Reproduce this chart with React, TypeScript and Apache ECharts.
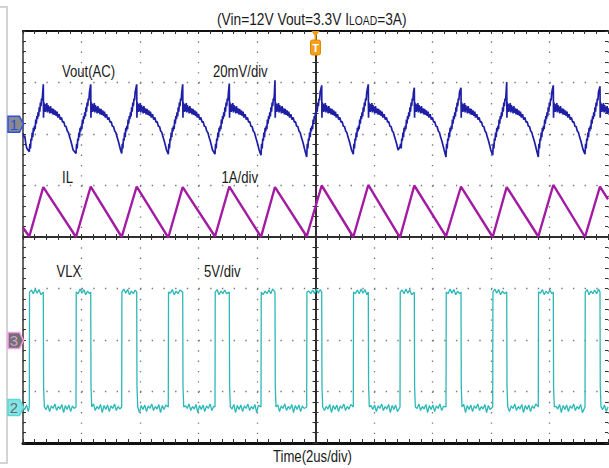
import React, { useEffect, useRef } from 'react';
import * as echarts from 'echarts';

// ---- time base: µs, trigger at 0, 2 µs/div, 10 divisions ----
const timeMinUs = -10;
const timeMaxUs = 10;
const timePerDivUs = 2;
const divMin = -4;
const divMax = 4;

// ---- channel scales (units/div) and ground marker position (div from centre) ----
const ch1ScaleMv = 20;
const ch1ZeroDiv = 2.19;
const ch3ScaleA = 1;
const ch3ZeroDiv = -2.01;
const ch2ScaleV = 5;
const ch2ZeroDiv = -3.31;

// ---- VLX switching edges (µs) ----
const vlxRiseUs = [-9.785, -8.188, -6.626, -5.033, -3.436, -1.863, -0.301, 1.292, 2.889, 4.462, 6.058, 7.617, 9.214];
const vlxFallUs = [-9.306, -7.685, -6.113, -4.54, -2.947, -1.385, 0.212, 1.805, 3.378, 4.974, 6.537, 8.13, 9.726];
const vlxHighV = 11.2;
const vlxLowV = 0.05;
const vlxFallTailV = 2.0;
const vlxHighRipple = [0.2, -0.15, 0.3, -0.1, 0.25, -0.25, 0.1, -0.15];
const vlxLowRipple = [-0.25, 0.2, -0.45, 0.1, -0.15, 0.3, -0.35, 0.05, -0.2, 0.25, -0.55, 0.15];

// ---- inductor current (A) ----
const ilStart: [number, number] = [-10, 2.19];
const ilEnd: [number, number] = [10, 2.74];
const ilValleyA = [2.02, 2.01, 2.01, 2.0, 2.02, 2.01, 2.02, 2.01, 2.0, 2.02, 2.01, 2.02, 2.01];
const ilPeakA = [2.98, 2.99, 2.99, 2.98, 2.99, 2.98, 3.01, 3.02, 3.01, 2.99, 2.98, 3.02, 2.99];

// ---- output ripple (mV, AC) ----
const voutStart: [number, number][] = [[-10, -3.5], [-9.96, -5.2], [-9.94, -4.4], [-9.9, -8.0], [-9.87, -9.3]];
const voutValleyMv = [-10.7, -11.4, -11.4, -11.6, -11.6, -12.0, -12.7, -11.6, -8.8, -12.7, -12.0, -12.7, -11.6];
const voutPeakMv = [15.5, 15.5, 15.5, 15.5, 15.8, 17.1, 15.1, 15.5, 14.2, 14.2, 16.4, 15.1, 14.7];
// shape during on-time (µs after rising edge, mV)
const voutRiseShape: [number, number][] = [
  [0.02, -7.6], [0.04, -9.4], [0.06, -5.6], [0.08, -6.4], [0.1, -3.2], [0.12, -5.0],
  [0.14, -1.4], [0.16, -2.8], [0.18, -0.6], [0.2, -1.9], [0.22, 1.8], [0.24, 0.2],
  [0.26, 3.2], [0.28, 2.0], [0.3, 4.6], [0.32, 3.0], [0.34, 6.6], [0.36, 4.9],
  [0.38, 8.4], [0.4, 7.0], [0.42, 10.0], [0.44, 9.2], [0.46, 12.4],
];
// shape during off-time (µs after falling edge, mV)
const voutDecayShape: [number, number][] = [
  [0.008, 2.5], [0.02, 8.5], [0.035, 5.0], [0.05, 7.9], [0.065, 4.8], [0.08, 7.6],
  [0.1, 5.2], [0.12, 8.2], [0.14, 4.6], [0.16, 7.4], [0.18, 5.0], [0.2, 6.8],
  [0.22, 4.2], [0.245, 7.0], [0.27, 4.4], [0.295, 6.2], [0.32, 3.8], [0.35, 6.0],
  [0.38, 3.6], [0.41, 5.4], [0.44, 3.2], [0.47, 4.9], [0.5, 2.6], [0.54, 3.9],
  [0.58, 1.8], [0.62, 2.6], [0.66, 0.8], [0.7, 1.0], [0.74, -0.8], [0.78, -0.9],
  [0.82, -2.6], [0.86, -3.2], [0.9, -5.0], [0.94, -6.4], [0.98, -8.2], [1.02, -10.0],
];

// ---- texts ----
const titleMain = '(Vin=12V Vout=3.3V I';
const titleSub = 'LOAD';
const titleEnd = '=3A)';
const ch1Label = 'Vout(AC)';
const ch1Scale = '20mV/div';
const ch3Label = 'IL';
const ch3Scale = '1A/div';
const ch2Label = 'VLX';
const ch2Scale = '5V/div';
const timeLabel = 'Time(2us/div)';

const FONT = '"Liberation Sans", Arial, sans-serif';

function buildVlx(): [number, number][] {
  const d: [number, number][] = [[timeMinUs, vlxLowV]];
  const ripple = (t0: number, t1: number, base: number, arr: number[], step: number, phase: number) => {
    let k = phase;
    for (let t = t0 + step; t < t1 - step * 0.5; t += step) {
      d.push([t, base + arr[k % arr.length]]);
      k++;
    }
  };
  ripple(timeMinUs, vlxRiseUs[0], vlxLowV, vlxLowRipple, 0.06, 0);
  for (let i = 0; i < vlxRiseUs.length; i++) {
    const r = vlxRiseUs[i];
    const f = vlxFallUs[i];
    d.push([r, vlxLowV], [r + 0.008, vlxHighV]);
    ripple(r + 0.008, f, vlxHighV, vlxHighRipple, 0.065, i);
    d.push([f, vlxHighV], [f + 0.01, vlxFallTailV], [f + 0.035, vlxLowV]);
    const next = i + 1 < vlxRiseUs.length ? vlxRiseUs[i + 1] : timeMaxUs;
    ripple(f + 0.035, next, vlxLowV, vlxLowRipple, 0.06, i * 5);
  }
  d.push([timeMaxUs, vlxLowV]);
  return d;
}

function buildIl(): [number, number][] {
  const d: [number, number][] = [ilStart];
  for (let i = 0; i < vlxRiseUs.length; i++) {
    d.push([vlxRiseUs[i], ilValleyA[i]], [vlxFallUs[i], ilPeakA[i]]);
  }
  d.push(ilEnd);
  return d;
}

function buildVout(): [number, number][] {
  const d: [number, number][] = [...voutStart];
  for (let i = 0; i < vlxRiseUs.length; i++) {
    const r = vlxRiseUs[i];
    const f = vlxFallUs[i];
    d.push([r, voutValleyMv[i]]);
    voutRiseShape.forEach(([dt, v]) => {
      if (r + dt < f - 0.005) d.push([r + dt, v]);
    });
    d.push([f, voutPeakMv[i]]);
    voutDecayShape.forEach(([dt, v]) => d.push([f + dt, v]));
  }
  return d;
}

const chRange = (scale: number, zeroDiv: number) => ({
  min: (divMin - zeroDiv) * scale,
  max: (divMax - zeroDiv) * scale,
});

export default function App() {
  const ref = useRef<HTMLDivElement>(null);
  useEffect(() => {
    if (!ref.current) return;
    const chart = echarts.init(ref.current, null, { renderer: 'svg' });
    const gridLeft = 23;
    const gridTop = 31;
    const gridW = 585;
    const gridH = 412;
    const cx = gridLeft + gridW / 2;
    const divW = gridW / 10;
    const divH = gridH / 8;
    const gridColor = '#777';

    const baseX = {
      type: 'value',
      min: timeMinUs,
      max: timeMaxUs,
      interval: timePerDivUs,
      axisLabel: { show: false },
    };
    const baseY = {
      type: 'value',
      min: divMin,
      max: divMax,
      interval: 1,
      axisLabel: { show: false },
    };
    const tick = (inside: boolean, len = 3) => ({
      axisTick: { show: true, inside, length: len, lineStyle: { color: '#333', width: 1 } },
      minorTick: { show: true, splitNumber: 5, length: len, lineStyle: { color: '#333', width: 1 } },
    });

    const label = (text: string, x: number, y: number) => ({
      type: 'text',
      x,
      y,
      scaleX: 0.82,
      z: 50,
      style: {
        text,
        font: `16px ${FONT}`,
        fill: '#1b1b1b',
        align: 'left',
        verticalAlign: 'middle',
        textAlign: 'left',
        textVerticalAlign: 'middle',
      },
    });
    const marker = (y: number, fill: string, stroke: string, text: string, textFill: string) => [
      {
        type: 'polygon',
        z: 60,
        shape: { points: [[8, y - 8], [19.5, y - 8], [23.5, y], [19.5, y + 8], [8, y + 8]] },
        style: { fill, stroke, lineWidth: 1.5 },
      },
      {
        type: 'text',
        x: 14,
        y,
        z: 61,
        style: {
          text,
          font: `15px ${FONT}`,
          fill: textFill,
          align: 'center',
          verticalAlign: 'middle',
          textAlign: 'center',
          textVerticalAlign: 'middle',
        },
      },
    ];
    const yOf = (zeroDiv: number) => gridTop + gridH / 2 - zeroDiv * divH;

    const option: any = {
      animation: false,
      backgroundColor: '#ffffff',
      grid: { left: gridLeft, top: gridTop, width: gridW, height: gridH, outerBoundsMode: 'none', containLabel: false },
      xAxis: [
        {
          ...baseX,
          position: 'bottom',
          axisLine: { show: true, onZero: false, lineStyle: { color: '#111', width: 3 } },
          ...tick(true, 4),
          splitLine: { show: true, lineStyle: { color: gridColor, width: 1.3, type: [1.4, divH / 5 - 1.4] } },
        },
        {
          ...baseX,
          position: 'top',
          axisLine: { show: true, onZero: false, lineStyle: { color: '#111', width: 2 } },
          ...tick(true, 3),
          splitLine: { show: false },
        },
        {
          ...baseX,
          position: 'bottom',
          axisLine: { show: true, onZero: true, onZeroAxisIndex: 0, lineStyle: { color: '#222', width: 1.5 } },
          ...tick(true, 3),
          splitLine: { show: false },
        },
        {
          ...baseX,
          position: 'bottom',
          axisLine: { show: true, onZero: true, onZeroAxisIndex: 0, lineStyle: { color: '#222', width: 1.5 } },
          ...tick(false, 3),
          splitLine: { show: false },
        },
      ],
      yAxis: [
        {
          ...baseY,
          position: 'left',
          axisLine: { show: true, onZero: false, lineStyle: { color: '#333', width: 1.5 } },
          ...tick(true, 3),
          splitLine: { show: true, lineStyle: { color: gridColor, width: 1.3, type: [1.4, divW / 5 - 1.4] } },
        },
        {
          ...baseY,
          position: 'left',
          axisLine: { show: true, onZero: true, onZeroAxisIndex: 0, lineStyle: { color: '#222', width: 1.5 } },
          ...tick(true, 3),
          splitLine: { show: false },
        },
        {
          ...baseY,
          position: 'left',
          axisLine: { show: true, onZero: true, onZeroAxisIndex: 0, lineStyle: { color: '#222', width: 1.5 } },
          ...tick(false, 3),
          splitLine: { show: false },
        },
        {
          ...baseY,
          position: 'right',
          axisLine: { show: false, onZero: false },
          ...tick(true, 3),
          splitLine: { show: false },
        },
        { type: 'value', show: false, ...chRange(ch1ScaleMv, ch1ZeroDiv) },
        { type: 'value', show: false, ...chRange(ch3ScaleA, ch3ZeroDiv) },
        { type: 'value', show: false, ...chRange(ch2ScaleV, ch2ZeroDiv) },
      ],
      series: [
        {
          type: 'line',
          name: 'VLX',
          xAxisIndex: 0,
          yAxisIndex: 6,
          data: buildVlx(),
          showSymbol: false,
          symbol: 'none',
          silent: true,
          z: 3,
          lineStyle: { color: '#2db8b8', width: 1.3 },
        },
        {
          type: 'line',
          name: 'IL',
          xAxisIndex: 0,
          yAxisIndex: 5,
          data: buildIl(),
          showSymbol: false,
          symbol: 'none',
          silent: true,
          z: 4,
          lineStyle: { color: '#a31aa3', width: 2.4 },
        },
        {
          type: 'line',
          name: 'Vout',
          xAxisIndex: 0,
          yAxisIndex: 4,
          data: buildVout(),
          showSymbol: false,
          symbol: 'none',
          silent: true,
          z: 5,
          lineStyle: { color: '#1f1fa6', width: 1.7 },
        },
      ],
      graphic: [
        {
          type: 'polyline',
          z: 40,
          shape: { points: [[0, 7], [7, 7], [7, 463], [0, 463]] },
          style: { stroke: '#d4d4d4', lineWidth: 2, fill: null },
        },
        {
          type: 'text',
          x: 217,
          y: 19,
          scaleX: 0.86,
          z: 50,
          style: {
            text: `{a|${titleMain}}{b|${titleSub}}{a|${titleEnd}}`,
            align: 'left',
            verticalAlign: 'middle',
            textAlign: 'left',
            textVerticalAlign: 'middle',
            rich: {
              a: { fontSize: 16, fontFamily: FONT, fill: '#1b1b1b', color: '#1b1b1b', verticalAlign: 'bottom' },
              b: { fontSize: 12, fontFamily: FONT, fill: '#1b1b1b', color: '#1b1b1b', verticalAlign: 'bottom' },
            },
          },
        },
        label(ch1Label, 62, 72),
        label(ch1Scale, 213, 72),
        label(ch3Label, 62, 177.5),
        label(ch3Scale, 221.5, 177.5),
        label(ch2Label, 56.5, 271.5),
        label(ch2Scale, 204, 271.5),
        label(timeLabel, 273, 457),
        ...marker(yOf(ch1ZeroDiv), '#8a8a8a', '#2b50e6', '1', '#2b4fd8'),
        ...marker(yOf(ch3ZeroDiv), '#707070', '#ff99ee', '3', '#d2a2d2'),
        ...marker(yOf(ch2ZeroDiv), '#82e6e6', '#5fd6d6', '2', '#6a6a6a'),
        {
          type: 'polygon',
          z: 60,
          shape: { points: [[cx - 4, gridTop], [cx + 4, gridTop], [cx, gridTop + 6]] },
          style: { fill: '#f39c12' },
        },
        {
          type: 'line',
          z: 60,
          shape: { x1: cx, y1: gridTop + 5, x2: cx, y2: gridTop + 10 },
          style: { stroke: '#f39c12', lineWidth: 2 },
        },
        {
          type: 'rect',
          z: 60,
          shape: { x: cx - 5, y: gridTop + 9, width: 10, height: 15, r: 2 },
          style: { fill: '#f4a01c', stroke: '#e08a00', lineWidth: 1 },
        },
        {
          type: 'text',
          x: cx,
          y: gridTop + 16.5,
          z: 61,
          style: {
            text: 'T',
            font: `bold 11px ${FONT}`,
            fill: '#ffffff',
            align: 'center',
            verticalAlign: 'middle',
            textAlign: 'center',
            textVerticalAlign: 'middle',
          },
        },
      ],
    };
    chart.setOption(option);
    return () => chart.dispose();
  }, []);
  return (
    <div
      ref={ref}
      style={{ position: 'fixed', left: 0, top: 0, width: 609, height: 468, background: '#fff' }}
    />
  );
}
